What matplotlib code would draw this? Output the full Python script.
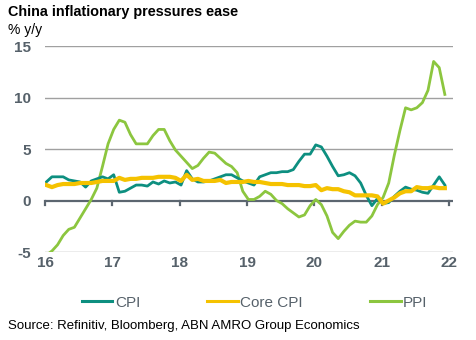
import matplotlib.pyplot as plt
import numpy as np

plt.rcParams['font.family'] = ['Liberation Sans', 'DejaVu Sans']

# monthly data, Jan 2016 - Dec 2021
cpi = [1.8, 2.3, 2.3, 2.3, 2.0, 1.9, 1.8, 1.3, 1.9, 2.1, 2.3, 2.1,
       2.5, 0.8, 0.9, 1.2, 1.5, 1.5, 1.4, 1.8, 1.6, 1.9, 1.7, 1.8,
       1.5, 2.9, 2.1, 1.8, 1.8, 1.9, 2.1, 2.3, 2.5, 2.5, 2.2, 1.9,
       1.7, 1.5, 2.3, 2.5, 2.7, 2.7, 2.8, 2.8, 3.0, 3.8, 4.5, 4.5,
       5.4, 5.2, 4.3, 3.3, 2.4, 2.5, 2.7, 2.4, 1.7, 0.5, -0.5, 0.2,
       -0.3, -0.2, 0.4, 0.9, 1.3, 1.1, 1.0, 0.8, 0.7, 1.5, 2.3, 1.5]
core_cpi = [1.5, 1.3, 1.5, 1.6, 1.6, 1.6, 1.7, 1.7, 1.7, 1.8, 1.9, 1.9,
            1.9, 2.2, 2.0, 2.1, 2.1, 2.2, 2.2, 2.2, 2.3, 2.3, 2.3, 2.2,
            1.9, 2.5, 2.0, 2.1, 1.9, 1.9, 1.9, 2.0, 1.7, 1.8, 1.8, 1.8,
            1.9, 1.8, 1.8, 1.7, 1.6, 1.6, 1.6, 1.5, 1.5, 1.5, 1.4, 1.4,
            1.5, 1.0, 1.2, 1.1, 1.1, 0.9, 0.8, 0.5, 0.5, 0.5, 0.5, 0.4,
            -0.3, 0.0, 0.3, 0.7, 0.9, 0.9, 1.3, 1.2, 1.2, 1.3, 1.2, 1.2]
ppi = [-5.3, -4.9, -4.3, -3.4, -2.8, -2.6, -1.7, -0.8, 0.1, 1.2, 3.3, 5.5,
       6.9, 7.8, 7.6, 6.4, 5.5, 5.5, 5.5, 6.3, 6.9, 6.9, 5.8, 4.9,
       4.3, 3.7, 3.1, 3.4, 4.1, 4.7, 4.6, 4.1, 3.6, 3.3, 2.7, 0.9,
       0.1, 0.1, 0.4, 0.9, 0.6, 0.0, -0.3, -0.8, -1.2, -1.6, -1.4, -0.5,
       0.1, -0.4, -1.5, -3.1, -3.7, -3.0, -2.4, -2.0, -2.1, -2.1, -1.5, -0.4,
       0.3, 1.7, 4.4, 6.8, 9.0, 8.8, 9.0, 9.5, 10.7, 13.5, 12.9, 10.3]
year_ticks = [2016, 2017, 2018, 2019, 2020, 2021, 2022]
year_labels = ['16', '17', '18', '19', '20', '21', '22']

x = 2016 + np.arange(len(cpi)) / 12 + 0.02

grey = '#56616a'
fig = plt.figure(figsize=(4.76, 3.40), dpi=100)
ax = fig.add_axes([0.0945, 0.2588, 0.8575, 0.6059])

for yv in [-5, 5, 10, 15]:
    ax.axhline(yv, color='#a0a0a0', lw=1.0, zorder=1)
ax.axhline(0, color='#5c6670', lw=1.6, zorder=1)

ax.plot(x, cpi, color='#0d8f80', lw=2.0, label='CPI', zorder=3)
ax.plot(x, core_cpi, color='#f5c200', lw=3.0, label='Core CPI', zorder=4)
ax.plot(x, ppi, color='#8cc63f', lw=2.0, label='PPI', zorder=2)

ax.set_xlim(2016, 2022.06)
ax.set_ylim(-5, 15)
ax.set_yticks([-5, 0, 5, 10, 15])
ax.set_yticklabels(['-5', '0', '5', '10', '15'])
ax.set_xticks(year_ticks)
ax.set_xticklabels(year_labels)
for s in ax.spines.values():
    s.set_visible(False)
ax.tick_params(axis='y', length=0, pad=10, labelsize=11, labelcolor=grey)
ax.tick_params(axis='x', length=0, pad=3, labelsize=11, labelcolor=grey)
for lab in ax.get_xticklabels() + ax.get_yticklabels():
    lab.set_fontweight('bold')
# small tick marks hanging from the zero line
for t in year_ticks:
    ax.plot([t, t], [0, -0.45], color='#5c6670', lw=1.6, zorder=1, clip_on=False)

leg = fig.legend(loc='center', bbox_to_anchor=(0.535, 0.11), ncol=3, frameon=False,
                 fontsize=11, handlelength=2.0, handletextpad=0.15, columnspacing=4.4,
                 labelcolor=grey)
for h in leg.get_lines():
    h.set_linewidth(2.2)

fig.text(0.017, 0.965, 'China inflationary pressures ease', fontsize=10.4,
         fontweight='bold', va='center')
fig.text(0.017, 0.912, '% y/y', fontsize=10, va='center')
fig.text(0.017, 0.04, 'Source: Refinitiv, Bloomberg, ABN AMRO Group Economics',
         fontsize=9.5, va='center')

fig.savefig('out.png', dpi=100)
